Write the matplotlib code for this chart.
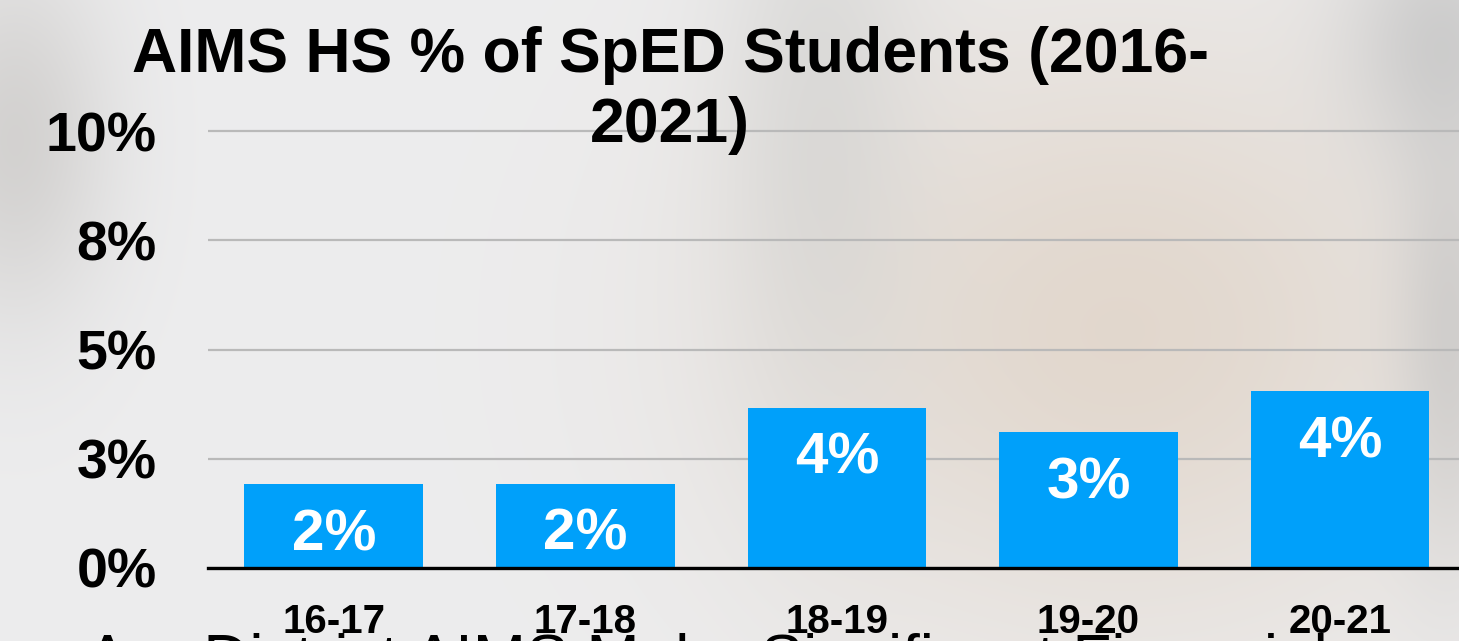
import numpy as np
import matplotlib
matplotlib.use("Agg")
import matplotlib.pyplot as plt

# ---- data ----
categories = ['16-17', '17-18', '18-19', '19-20', '20-21']
values = [0.0192, 0.0193, 0.0367, 0.0311, 0.0404]
value_labels = ['2%', '2%', '4%', '3%', '4%']
ytick_values = [0, 0.025, 0.05, 0.075, 0.1]
ytick_labels = ['0%', '3%', '5%', '8%', '10%']
title_line1 = 'AIMS HS % of SpED Students (2016-'
title_line2 = '2021)'
slide_text = 'Are District AIMS Make Significant Financial'

plt.rcParams['font.family'] = ['Liberation Sans', 'DejaVu Sans']

W, H = 1459, 641
fig = plt.figure(figsize=(W / 100, H / 100), dpi=100)

# ---- faded photo-like background ----
bg = fig.add_axes([0, 0, 1, 1], zorder=0)
bg.axis('off')
yy, xx = np.mgrid[0:H, 0:W]
img = np.ones((H, W, 3)) * np.array([237, 237, 238]) / 255.0


def blob(img, cx, cy, sx, sy, color, strength):
    w = strength * np.exp(-(((xx - cx) / sx) ** 2 + ((yy - cy) / sy) ** 2) / 2)
    return img * (1 - w[..., None]) + w[..., None] * np.array(color) / 255.0


img = blob(img, 15, 140, 70, 130, (205, 203, 201), 0.8)
img = blob(img, 1120, 330, 260, 220, (224, 212, 200), 0.85)
img = blob(img, 820, 120, 70, 220, (208, 208, 206), 0.6)
img = blob(img, 1440, 40, 70, 90, (195, 195, 195), 0.7)
img = blob(img, 1450, 330, 40, 160, (185, 185, 185), 0.5)
bg.imshow(img, aspect='auto', extent=[0, W, H, 0])
bg.set_xlim(0, W)
bg.set_ylim(H, 0)

# ---- main axes ----
x_left = 208 / W
y_bot = 1 - 568 / H
ytop_val = 0.102
axes_top_px = 568 - (568 - 131) * ytop_val / 0.1
ax = fig.add_axes([x_left, y_bot, 1 - x_left, (568 - axes_top_px) / H], zorder=2)
ax.set_facecolor('none')

x = np.arange(len(categories))
bars = ax.bar(x, values, width=0.71, color='#00A0FA', zorder=3)
ax.set_xlim(-0.5, 4.473)
ax.set_ylim(0, ytop_val)

for xi, v, lab in zip(x, values, value_labels):
    ax.annotate(lab, (xi, v), xytext=(0, -47.5), textcoords='offset points',
                ha='center', va='baseline', color='white', fontsize=42,
                fontweight='bold', zorder=4)

ax.set_yticks(ytick_values)
ax.set_yticklabels(ytick_labels, fontsize=40, fontweight='bold')
ax.set_xticks(x)
ax.set_xticklabels(categories, fontsize=29, fontweight='bold')
ax.tick_params(axis='y', length=0, pad=37)
ax.tick_params(axis='x', length=0, pad=25)
ax.yaxis.grid(True, color='#b9b9b9', linewidth=1.6, zorder=1)
ax.set_axisbelow(True)
for s in ['left', 'right', 'top']:
    ax.spines[s].set_visible(False)
ax.spines['bottom'].set_color('black')
ax.spines['bottom'].set_linewidth(2.4)
ax.spines['bottom'].set_zorder(5)

# ---- title ----
fig.text(670 / W, 1 - 72 / H, title_line1, ha='center', va='baseline',
         fontsize=45, fontweight='bold', zorder=3)
fig.text(670 / W, 1 - 142 / H, title_line2, ha='center', va='baseline',
         fontsize=45, fontweight='bold', zorder=3)

# ---- partially hidden slide text at bottom ----
fig.text(86 / W, 1 - 680 / H, slide_text, ha='left', va='baseline',
         fontsize=46, zorder=1, color='black')

fig.savefig('out.png', dpi=100)
